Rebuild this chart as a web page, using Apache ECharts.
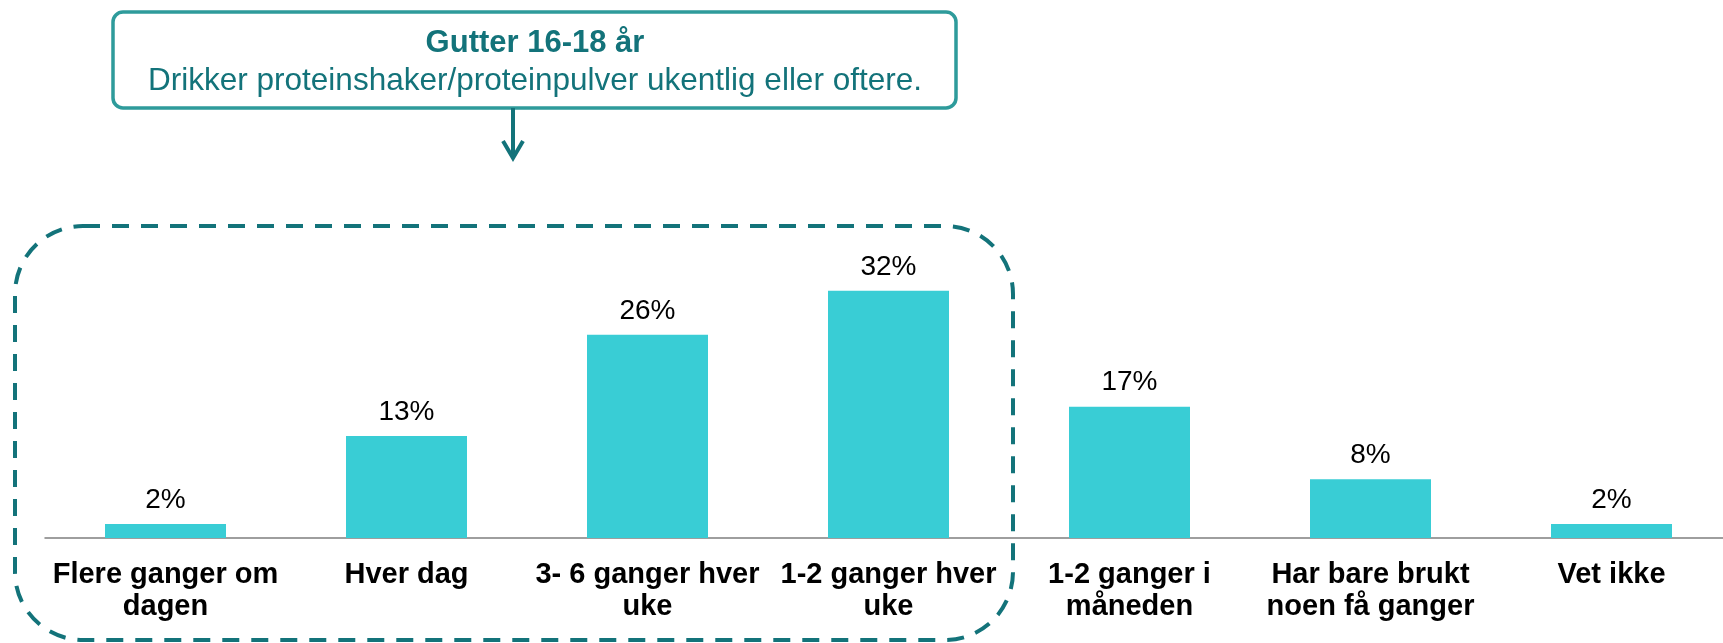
<!DOCTYPE html>
<html>
<head>
<meta charset="utf-8">
<script src="https://cdn.jsdelivr.net/npm/echarts@6/dist/echarts.min.js"></script>
<style>
  html, body { margin: 0; padding: 0; background: #fff; }
  #chart { width: 1723px; height: 643px; }
</style>
</head>
<body>
<div id="chart"></div>
<script>
// svar-kategorier og andel (%)
const categories = [
  'Flere ganger om\ndagen',
  'Hver dag',
  '3- 6 ganger hver\nuke',
  '1-2 ganger hver\nuke',
  '1-2 ganger i\nmåneden',
  'Har bare brukt\nnoen få ganger',
  'Vet ikke'
]
// lest av søylehøydene, etiketten viser avrundet verdi
const shares = [1.8, 13.2, 26.3, 32, 17, 7.6, 1.8]

const boxTitle = 'Gutter 16-18 år'
const boxText = 'Drikker proteinshaker/proteinpulver ukentlig eller oftere.'

const teal = '#13737a'
const font = '"Liberation Sans", Arial, sans-serif'

const myChart = echarts.init(document.getElementById('chart'))

myChart.setOption({
  animation: false,
  grid: {
    left: 45,
    right: -9,
    top: 229,
    bottom: 105,
    containLabel: false,
    outerBoundsMode: 'none'
  },
  xAxis: {
    type: 'category',
    data: categories,
    axisTick: { show: false },
    axisLine: { lineStyle: { color: '#7f7f7f', width: 1.5 } },
    axisLabel: {
      interval: 0,
      margin: 21,
      color: '#000',
      fontFamily: font,
      fontWeight: 'bold',
      fontSize: 29,
      lineHeight: 32
    }
  },
  yAxis: {
    type: 'value',
    min: 0,
    max: 40,
    show: false
  },
  series: [
    {
      type: 'bar',
      data: shares,
      barWidth: 121,
      itemStyle: { color: '#39cdd5' },
      label: {
        show: true,
        position: 'top',
        distance: 10,
        formatter: (p) => Math.round(p.value) + '%',
        color: '#000',
        fontFamily: font,
        fontSize: 28,
        lineHeight: 28
      }
    }
  ],
  graphic: [
    // boks øverst
    {
      type: 'rect',
      shape: { x: 113, y: 12, width: 843, height: 96, r: 10 },
      style: { fill: '#fff', stroke: '#2e9b9b', lineWidth: 3.5 },
      z: 10
    },
    {
      type: 'text',
      x: 535, y: 43,
      style: {
        text: boxTitle, fill: teal, font: 'bold 31px ' + font,
        align: 'center', verticalAlign: 'middle'
      },
      z: 11
    },
    {
      type: 'text',
      x: 535, y: 81,
      style: {
        text: boxText, fill: teal, font: '31.5px ' + font,
        align: 'center', verticalAlign: 'middle'
      },
      z: 11
    },
    // pil
    {
      type: 'line',
      shape: { x1: 513, y1: 108, x2: 513, y2: 157 },
      style: { stroke: teal, lineWidth: 4 },
      z: 10
    },
    {
      type: 'polyline',
      shape: { points: [[503, 141], [513, 158], [523, 141]] },
      style: { stroke: teal, lineWidth: 4, fill: null },
      z: 10
    },
    // stiplet ramme rundt ukentlig eller oftere
    {
      type: 'rect',
      shape: { x: 15, y: 226, width: 998, height: 414, r: 68 },
      style: { fill: null, stroke: teal, lineWidth: 4, lineDash: [17, 12] },
      z: 10
    }
  ]
})
</script>
</body>
</html>
